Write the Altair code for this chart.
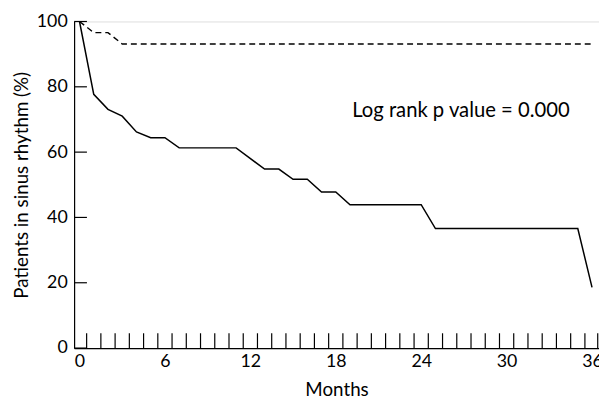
import altair as alt
import pandas as pd

# Solid curve (Kaplan-Meier style estimate)
solid_months = [0, 1, 2, 3, 4, 5, 6, 7, 11, 13, 14, 15, 16, 17, 18, 19, 24, 25, 35, 36]
solid_values = [100, 77.7, 73.1, 71.0, 66.2, 64.4, 64.4, 61.3, 61.3, 54.8, 54.8,
                51.7, 51.7, 47.8, 47.8, 43.9, 43.9, 36.6, 36.6, 18.6]

# Dashed curve
dashed_months = [0, 1, 2, 3, 36]
dashed_values = [100, 96.6, 96.6, 93.1, 93.1]

x_label_values = [0, 6, 12, 18, 24, 30, 36]
y_label_values = [0, 20, 40, 60, 80, 100]
x_minor_ticks = [m + 0.5 for m in range(36)] + [36.4]

annotation = "Log rank p value = 0.000"

FONT = "Lato"
W, H = 532, 331
XDOM = [-0.38, 36.49]

solid_df = pd.DataFrame({"month": solid_months, "pct": solid_values})
dashed_df = pd.DataFrame({"month": dashed_months, "pct": dashed_values})
xt_df = pd.DataFrame({"month": x_minor_ticks})
yt_df = pd.DataFrame({"pct": y_label_values})
ann_df = pd.DataFrame({"month": [19.15], "pct": [70.7], "text": [annotation]})

xscale = alt.Scale(domain=XDOM, nice=False, zero=False)
yscale = alt.Scale(domain=[0, 100], nice=False)

xaxis = alt.Axis(values=x_label_values, ticks=False, grid=False, title="Months",
                 labelFontSize=18, titleFontSize=19, labelPadding=5, titlePadding=10,
                 domainColor="black", domainWidth=1.2, labelColor="black", titleColor="black",
                 labelFont=FONT, titleFont=FONT, titleFontWeight="normal")
yaxis = alt.Axis(values=y_label_values, ticks=False, grid=False,
                 title="Patients in sinus rhythm (%)",
                 labelFontSize=18, titleFontSize=19, labelPadding=7, titlePadding=5,
                 domainColor="black", domainWidth=1.2, labelColor="black", titleColor="black",
                 labelFont=FONT, titleFont=FONT, titleFontWeight="normal")

solid = alt.Chart(solid_df).mark_line(color="black", strokeWidth=1.5).encode(
    x=alt.X("month:Q", scale=xscale, axis=xaxis),
    y=alt.Y("pct:Q", scale=yscale, axis=yaxis),
)
dashed = alt.Chart(dashed_df).mark_line(color="black", strokeWidth=1.4, strokeDash=[6, 4]).encode(
    x=alt.X("month:Q", scale=xscale),
    y=alt.Y("pct:Q", scale=yscale),
)
xticks = alt.Chart(xt_df).mark_rule(color="black", strokeWidth=1.2).encode(
    x=alt.X("month:Q", scale=xscale),
    y=alt.value(H),
    y2=alt.value(H - 15),
)
yticks = alt.Chart(yt_df).mark_rule(color="black", strokeWidth=1.2).encode(
    y=alt.Y("pct:Q", scale=yscale),
    x=alt.value(0),
    x2=alt.value(13),
)
ann = alt.Chart(ann_df).mark_text(align="left", baseline="alphabetic", fontSize=20.5,
                                  font=FONT, color="black").encode(
    x=alt.X("month:Q", scale=xscale),
    y=alt.Y("pct:Q", scale=yscale),
    text="text:N",
)

chart = alt.layer(solid, dashed, xticks, yticks, ann).properties(
    width=W, height=H,
    autosize=alt.AutoSizeParams(type="none"),
    padding={"left": 67, "top": 11, "right": 0, "bottom": 53},
).configure_view(stroke=None).configure(background="white")

chart.save("out.html", embed_options={"renderer": "svg", "actions": False})
